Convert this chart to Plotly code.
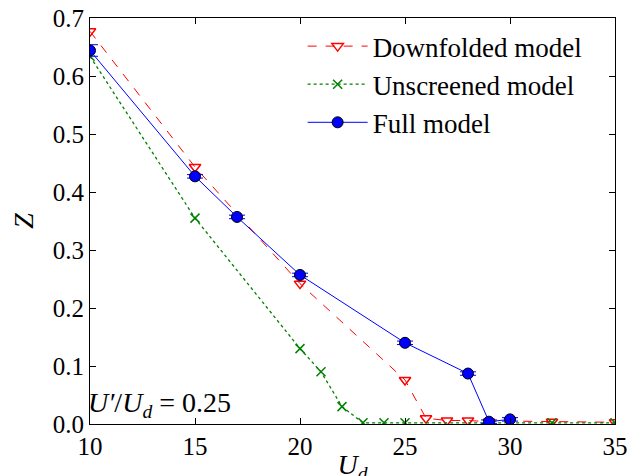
import plotly.graph_objects as go

# Full model
full_x = [10, 15, 17, 20, 25, 28, 29, 30]
full_y = [0.644, 0.427, 0.357, 0.257, 0.140, 0.087, 0.004, 0.008]
full_err = [0.010, 0.003, 0.003, 0.003, 0.003, 0.003, 0.003, 0.003]

# Downfolded model
down_x = [10, 15, 20, 25, 26, 27, 28, 29, 30, 32, 35]
down_y = [0.677, 0.443, 0.242, 0.076, 0.010, 0.006, 0.006, 0.004, 0.005, 0.004, 0.003]

# Unscreened model
unscr_x = [10, 15, 20, 21, 22, 23, 24, 25, 30, 32, 35]
unscr_y = [0.634, 0.355, 0.130, 0.090, 0.030, 0.002, 0.002, 0.002, 0.002, 0.002, 0.002]

x_ticks = [10, 15, 20, 25, 30, 35]
y_ticks = [0.0, 0.1, 0.2, 0.3, 0.4, 0.5, 0.6, 0.7]

FONT = "Liberation Serif, Times New Roman, DejaVu Serif, serif"

fig = go.Figure()

fig.add_trace(go.Scatter(
    x=down_x, y=down_y, mode="lines+markers", name="Downfolded model",
    legendgroup="a",
    line=dict(color="#ff0000", width=1, dash="dash"),
    marker=dict(symbol="triangle-down-open", size=10, color="#ff0000",
                line=dict(width=1.5, color="#ff0000")),
))
fig.add_trace(go.Scatter(
    x=unscr_x, y=unscr_y, mode="lines+markers", name="Unscreened model",
    legendgroup="b",
    line=dict(color="#008000", width=1.3, dash="dot"),
    marker=dict(symbol="x-thin-open", size=9, color="#008000",
                line=dict(width=1.5, color="#008000")),
))
fig.add_trace(go.Scatter(
    x=full_x, y=full_y, mode="lines+markers", name="Full model",
    legendgroup="c",
    line=dict(color="#0000ff", width=1),
    marker=dict(symbol="circle", size=11, color="#0000ff",
                line=dict(width=1, color="#000000")),
    error_y=dict(type="data", array=full_err, visible=True,
                 color="#0000ff", thickness=1, width=8),
))

axis_common = dict(
    showgrid=False, zeroline=False, showline=True, linecolor="#000000",
    linewidth=1, mirror="ticks", ticks="inside", ticklen=6, tickcolor="#000000",
    tickfont=dict(family=FONT, size=25, color="#000000"),
    ticklabeloverflow="allow",
)

fig.update_layout(
    width=641, height=476,
    margin=dict(l=82, r=34, t=10, b=60),
    paper_bgcolor="white", plot_bgcolor="white",
    font=dict(family=FONT, color="#000000"),
    xaxis=dict(range=[10, 35], tickvals=x_ticks, ticktext=[str(v) for v in x_ticks],
               title=dict(text="<i>U</i><sub><i>d</i></sub>",
                          font=dict(family=FONT, size=28), standoff=0),
               automargin=False, **axis_common),
    yaxis=dict(range=[0, 0.70001], tickvals=y_ticks, ticktext=[f"{v:.1f}" for v in y_ticks],
               title=dict(text="<i>Z</i>", font=dict(family=FONT, size=28), standoff=24),
               automargin=False, **axis_common),
    legend=dict(x=0.405, y=0.99, xanchor="left", yanchor="top",
                bgcolor="rgba(0,0,0,0)", borderwidth=0,
                font=dict(family=FONT, size=27, color="#000000"),
                traceorder="grouped", tracegroupgap=0, itemwidth=60),
    showlegend=True,
)

fig.add_annotation(
    x=10, y=0, xref="x", yref="y", xanchor="left", yanchor="bottom",
    text="<i>U′</i>/<i>U</i><sub><i>d</i></sub> = 0.25", showarrow=False,
    font=dict(family=FONT, size=28, color="#000000"), xshift=-4, yshift=0,
)

fig.write_html("out.html")
